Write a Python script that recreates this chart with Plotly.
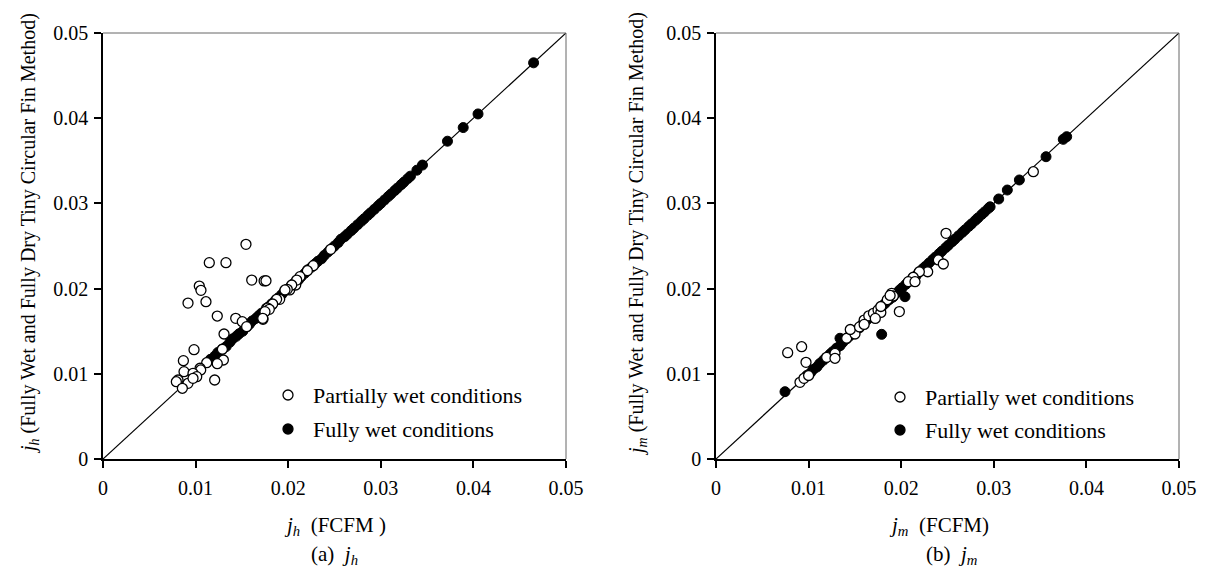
import plotly.graph_objects as go

# ---------------- data ----------------
# (a) j_h : partially wet conditions (open circles)
jh_pw_x = [0.01544, 0.01148, 0.01328, 0.01606, 0.01740, 0.01760, 0.01040, 0.01058, 0.00918, 0.01112,
           0.01234, 0.01433, 0.01504, 0.01551, 0.01728, 0.01767, 0.01821, 0.01908, 0.02016, 0.02081,
           0.01307, 0.01289, 0.01300, 0.01234, 0.00983, 0.00868, 0.01120, 0.01048, 0.01055, 0.00875,
           0.00972, 0.01012, 0.00810, 0.00792, 0.00918, 0.00972, 0.00857, 0.01206, 0.02459, 0.02271,
           0.02207, 0.02127, 0.02092, 0.02038, 0.01990, 0.01965, 0.01875, 0.01832, 0.01778, 0.01796,
           0.01749, 0.01725]
jh_pw_y = [0.02520, 0.02304, 0.02304, 0.02100, 0.02090, 0.02092, 0.02030, 0.01980, 0.01830, 0.01846,
           0.01678, 0.01651, 0.01612, 0.01553, 0.01640, 0.01768, 0.01807, 0.01874, 0.01984, 0.02042,
           0.01467, 0.01288, 0.01162, 0.01119, 0.01283, 0.01154, 0.01130, 0.01065, 0.01045, 0.01025,
           0.01006, 0.00966, 0.00927, 0.00907, 0.00888, 0.00947, 0.00830, 0.00927, 0.02461, 0.02269,
           0.02210, 0.02140, 0.02100, 0.02042, 0.01991, 0.01984, 0.01874, 0.01819, 0.01772, 0.01757,
           0.01729, 0.01651]

# (a) j_h : fully wet conditions (filled circles)
jh_fw_x = [0.0116, 0.0121, 0.0124, 0.0129, 0.0133, 0.0137, 0.0140, 0.0144, 0.0147, 0.0151,
           0.0155, 0.0158, 0.0161, 0.0165, 0.0168, 0.0171, 0.0175, 0.0178, 0.0182, 0.0186,
           0.0189, 0.0193, 0.0196, 0.0200, 0.0204, 0.0207, 0.0211, 0.0214, 0.0218, 0.0221,
           0.0225, 0.0229, 0.0232, 0.0236, 0.0239, 0.0243, 0.0247, 0.0250, 0.0254, 0.0257,
           0.0261, 0.0264, 0.0268, 0.0271, 0.0275, 0.0279, 0.0282, 0.0286, 0.0289, 0.0293,
           0.0297, 0.0300, 0.0304, 0.0308, 0.0311, 0.0315, 0.0318, 0.0322, 0.0325, 0.0329,
           0.0332, 0.0339, 0.0345, 0.0372, 0.0389, 0.0405, 0.0465]
jh_fw_y = [0.0117, 0.0121, 0.0125, 0.0129, 0.0132, 0.0137, 0.0141, 0.0144, 0.0147, 0.0150,
           0.0155, 0.0158, 0.0162, 0.0165, 0.0168, 0.0171, 0.0174, 0.0178, 0.0182, 0.0186,
           0.0189, 0.0193, 0.0197, 0.0200, 0.0204, 0.0207, 0.0210, 0.0214, 0.0218, 0.0222,
           0.0225, 0.0229, 0.0232, 0.0235, 0.0239, 0.0243, 0.0247, 0.0250, 0.0254, 0.0258,
           0.0261, 0.0264, 0.0268, 0.0271, 0.0275, 0.0279, 0.0282, 0.0286, 0.0289, 0.0293,
           0.0297, 0.0300, 0.0304, 0.0308, 0.0311, 0.0315, 0.0318, 0.0322, 0.0325, 0.0329,
           0.0332, 0.0339, 0.0345, 0.0373, 0.0389, 0.0405, 0.0465]

# (b) j_m : partially wet conditions (open circles)
jm_pw_x = [0.00774, 0.00925, 0.00972, 0.00907, 0.00950, 0.01195, 0.01285, 0.01285, 0.01411, 0.01501,
           0.03427, 0.02484, 0.02401, 0.02455, 0.02286, 0.02196, 0.02130, 0.02077, 0.02149, 0.01897,
           0.01915, 0.01980, 0.01450, 0.01550, 0.01600, 0.01650, 0.01700, 0.01750, 0.01780, 0.01850,
           0.01880, 0.01600, 0.01720, 0.01780, 0.01000]
jm_pw_y = [0.01248, 0.01318, 0.01135, 0.00900, 0.00947, 0.01193, 0.01240, 0.01182, 0.01417, 0.01467,
           0.03372, 0.02649, 0.02336, 0.02289, 0.02198, 0.02198, 0.02133, 0.02081, 0.02081, 0.01945,
           0.01913, 0.01730, 0.01520, 0.01550, 0.01630, 0.01680, 0.01710, 0.01750, 0.01720, 0.01870,
           0.01920, 0.01580, 0.01650, 0.01790, 0.00980]

# (b) j_m : fully wet conditions (filled circles)
jm_fw_x = [0.00745, 0.01789, 0.01339, 0.02041, 0.0098, 0.0102, 0.0105, 0.0109, 0.0112, 0.0116,
           0.0119, 0.0123, 0.0126, 0.0130, 0.0134, 0.0137, 0.0141, 0.0144, 0.0148, 0.0151,
           0.0155, 0.0158, 0.0162, 0.0166, 0.0169, 0.0173, 0.0176, 0.0180, 0.0183, 0.0187,
           0.0191, 0.0194, 0.0198, 0.0201, 0.0205, 0.0208, 0.0212, 0.0216, 0.0219, 0.0223,
           0.0226, 0.0230, 0.0234, 0.0237, 0.0241, 0.0244, 0.0248, 0.0251, 0.0255, 0.0258,
           0.0262, 0.0266, 0.0269, 0.0273, 0.0276, 0.0280, 0.0283, 0.0287, 0.0290, 0.0294,
           0.0296, 0.03053, 0.03146, 0.03276, 0.03564, 0.03750, 0.03787]
jm_fw_y = [0.00790, 0.01463, 0.01417, 0.01905, 0.0098, 0.0101, 0.0105, 0.0108, 0.0112, 0.0116,
           0.0119, 0.0123, 0.0126, 0.0130, 0.0133, 0.0137, 0.0141, 0.0144, 0.0148, 0.0151,
           0.0154, 0.0158, 0.0162, 0.0166, 0.0169, 0.0172, 0.0176, 0.0180, 0.0183, 0.0187,
           0.0190, 0.0194, 0.0198, 0.0201, 0.0205, 0.0208, 0.0212, 0.0215, 0.0219, 0.0223,
           0.0226, 0.0230, 0.0234, 0.0237, 0.0241, 0.0244, 0.0248, 0.0251, 0.0255, 0.0258,
           0.0262, 0.0266, 0.0269, 0.0273, 0.0276, 0.0280, 0.0283, 0.0287, 0.0290, 0.0294,
           0.0296, 0.03052, 0.03157, 0.03275, 0.03548, 0.03752, 0.03783]

diag = [0.0, 0.05]
tick_vals = [0, 0.01, 0.02, 0.03, 0.04, 0.05]
tick_text = ["0", "0.01", "0.02", "0.03", "0.04", "0.05"]

FONT = "Liberation Serif"
# page has an 8px body margin; figure is sized so the plot areas land where the reference has them
OFF = 8
W, H = 1206 - 2 * OFF, 575 - 2 * OFF
PL, PR, PT, PB = 103, 1179, 33, 459          # plot area in page pixels
ML, MT = PL - OFF, PT - OFF
MR = W - (PR - OFF)
MB = H - (PB - OFF)
PW = PR - PL
PH = PB - PT


def px_x(p):
    return (p - PL) / PW


def px_y(p):
    return (PB - p) / PH


fig = go.Figure()

panels = [
    ("x", "y", jh_fw_x, jh_fw_y, jh_pw_x, jh_pw_y),
    ("x2", "y2", jm_fw_x, jm_fw_y, jm_pw_x, jm_pw_y),
]
for xa, ya, fx, fy, ox, oy in panels:
    fig.add_trace(go.Scatter(x=diag, y=diag, mode="lines", line=dict(color="black", width=1.2),
                             xaxis=xa, yaxis=ya, showlegend=False, hoverinfo="skip"))
    fig.add_trace(go.Scatter(x=fx, y=fy, mode="markers", xaxis=xa, yaxis=ya, showlegend=False,
                             marker=dict(size=10, color="black", line=dict(color="black", width=1))))
    fig.add_trace(go.Scatter(x=ox, y=oy, mode="markers", xaxis=xa, yaxis=ya, showlegend=False,
                             marker=dict(size=10, color="white", line=dict(color="black", width=1.3))))

axis_common = dict(range=[0, 0.05], tickvals=tick_vals, ticktext=tick_text, showgrid=False,
                   zeroline=False, showline=True, linecolor="black", linewidth=1.5,
                   ticks="outside", ticklen=7, tickwidth=1.5, tickcolor="black", automargin=False,
                   tickfont=dict(family=FONT, size=20, color="black"))

d_left = [0, px_x(566)]
d_right = [px_x(716), 1]
fig.update_layout(
    width=W, height=H, margin=dict(l=ML, r=MR, t=MT, b=MB, autoexpand=False),
    plot_bgcolor="white", paper_bgcolor="white",
    xaxis=dict(domain=d_left, anchor="y", ticklabelstandoff=3, **axis_common),
    yaxis=dict(domain=[0, 1], anchor="x", ticklabelstandoff=2, **axis_common),
    xaxis2=dict(domain=d_right, anchor="y2", ticklabelstandoff=3, **axis_common),
    yaxis2=dict(domain=[0, 1], anchor="x2", ticklabelstandoff=2, **axis_common),
    showlegend=False,
)

# top / right frame lines (grey)
for xa, ya in [("x", "y"), ("x2", "y2")]:
    fig.add_shape(type="line", xref=f"{xa} domain", yref=f"{ya} domain", x0=0, x1=1, y0=1, y1=1,
                  line=dict(color="#666666", width=1))
    fig.add_shape(type="line", xref=f"{xa} domain", yref=f"{ya} domain", x0=1, x1=1, y0=0, y1=1,
                  line=dict(color="#666666", width=1))

# legends (symbols + text), page pixel positions
leg_items = [
    (288, 311, 395, 429),
    (900, 923, 397, 430),
]
for cx, tx, r1, r2 in leg_items:
    for ry, fill, label in [(r1, "white", "Partially wet conditions"), (r2, "black", "Fully wet conditions")]:
        fig.add_shape(type="circle", xref="paper", yref="paper", xsizemode="pixel", ysizemode="pixel",
                      xanchor=px_x(cx), yanchor=px_y(ry), x0=-5, x1=5, y0=-5, y1=5,
                      fillcolor=fill, line=dict(color="black", width=1.3))
        fig.add_annotation(xref="paper", yref="paper", x=px_x(tx), y=px_y(ry), text=label,
                           xanchor="left", yanchor="middle", showarrow=False,
                           font=dict(family=FONT, size=22, color="black"))

# axis titles and captions (page pixel centres)
ytitle_h = "<i>j<sub>h</sub></i> (Fully Wet and Fully Dry Tiny Circular Fin Method)"
ytitle_m = "<i>j<sub>m</sub></i> (Fully Wet and Fully Dry Tiny Circular Fin Method)"
texts = [
    (29, 234, ytitle_h, -90, 20),
    (637, 234, ytitle_m, -90, 20),
    (335, 526, "<i>j<sub>h</sub></i>  (FCFM )", 0, 21),
    (939, 526, "<i>j<sub>m</sub></i>  (FCFM)", 0, 21),
    (334, 555, "(a)  <i>j<sub>h</sub></i>", 0, 21),
    (951, 555, "(b)  <i>j<sub>m</sub></i>", 0, 21),
]
for x, y, t, ang, fs in texts:
    fig.add_annotation(xref="paper", yref="paper", x=px_x(x), y=px_y(y), text=t, textangle=ang,
                       xanchor="center", yanchor="middle", showarrow=False,
                       font=dict(family=FONT, size=fs, color="black"))

fig.write_html("out.html")
